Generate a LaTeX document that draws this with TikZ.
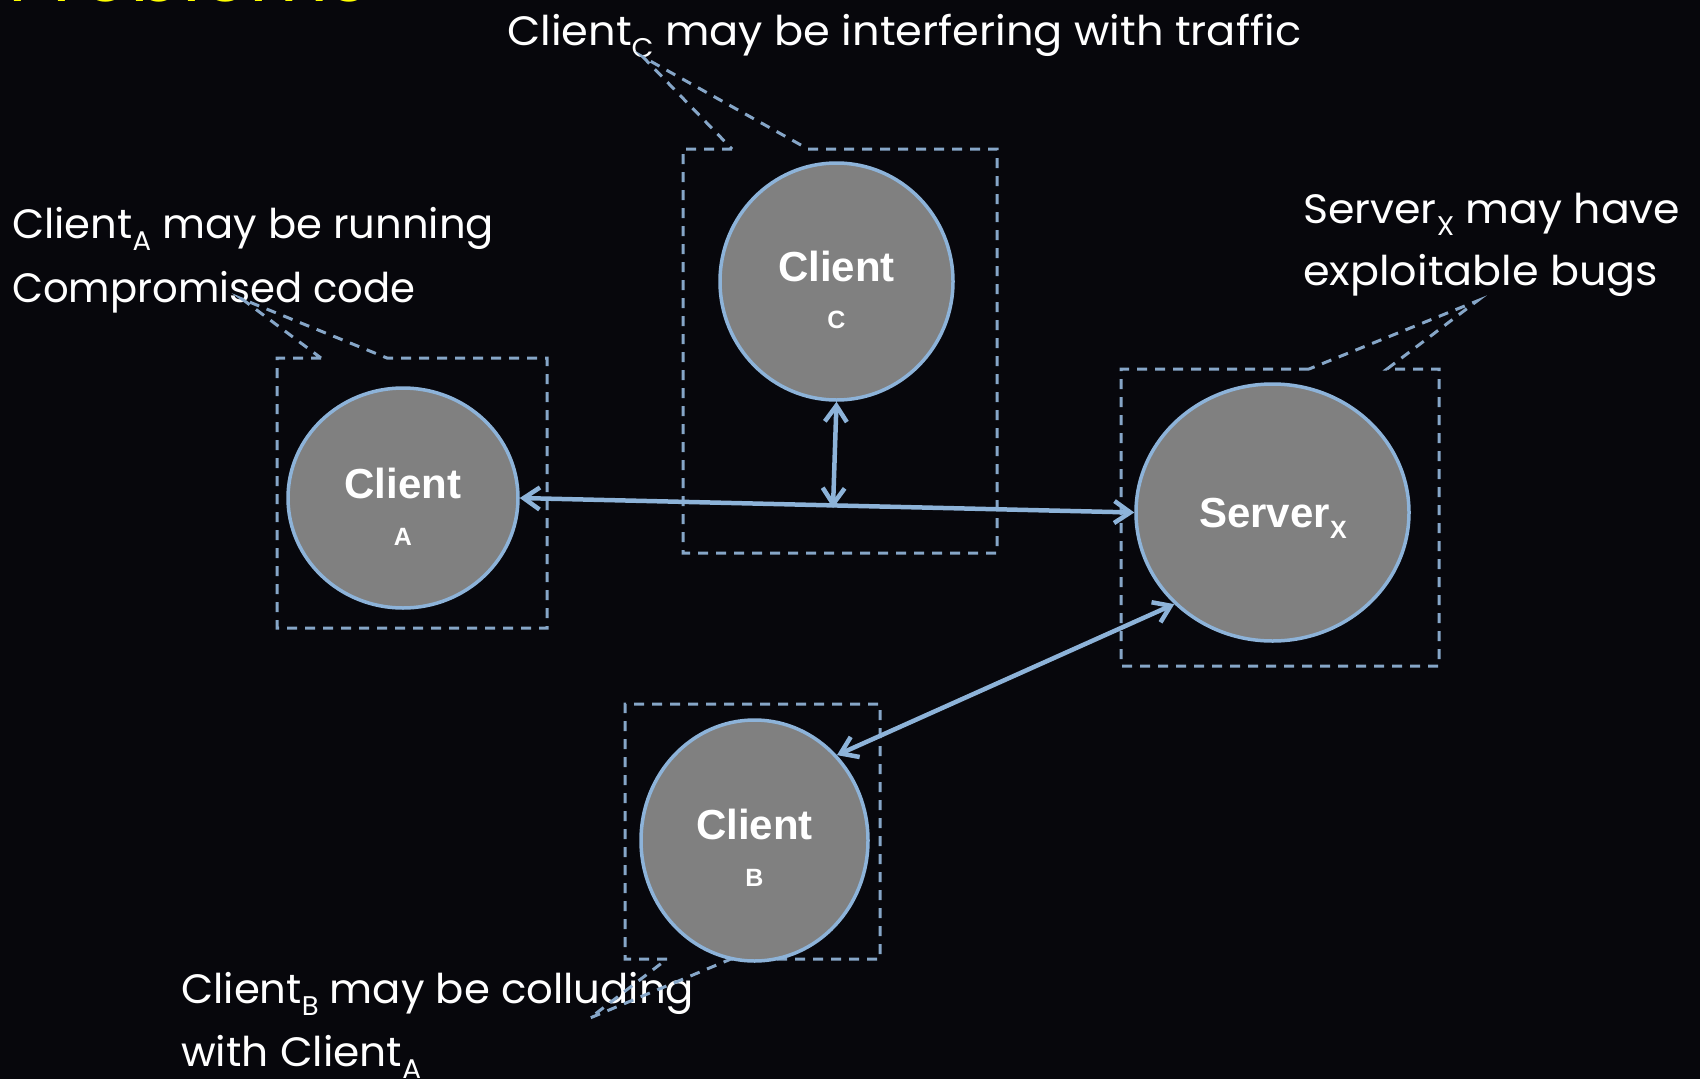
\documentclass[tikz,border=0pt]{standalone}
\usepackage{fontspec}
\setmainfont{Poppins}
\newfontfamily\nodefont{Liberation Sans}
\usetikzlibrary{arrows.meta,shapes.geometric}
\definecolor{bg}{HTML}{07070C}
\definecolor{edgeblue}{HTML}{8DB3D9}
\definecolor{dashblue}{HTML}{86A6C8}
\definecolor{fillg}{HTML}{808080}
\definecolor{titleyellow}{HTML}{FFFF00}
\newcommand\subs[1]{\raisebox{-0.3em}{\fontsize{27}{27}\selectfont #1}}
\newcommand\fitw[2]{\resizebox{#1}{\height}{#2}}
\tikzset{
  cnode/.style={ellipse, draw=edgeblue, fill=fillg, line width=3.5pt, inner sep=0pt},
  ctext/.style={text=white, font=\nodefont\bfseries\fontsize{42}{42}\selectfont, inner sep=0pt, anchor=base},
  csub/.style={text=white, font=\nodefont\bfseries\fontsize{25}{25}\selectfont, inner sep=0pt, anchor=base},
  calltext/.style={text=white, font=\fontsize{41}{41}\selectfont, inner sep=0pt, anchor=base west},
  callbox/.style={draw=dashblue, line width=3pt, dash pattern=on 10pt off 8pt},
  conn/.style={draw=edgeblue, line width=4.5pt, line cap=round,
    {Straight Barb[length=16pt,width=22pt]}-{Straight Barb[length=16pt,width=22pt]}}
}
\begin{document}
\begin{tikzpicture}[x=1pt,y=-1pt]
\fill[bg] (0,0) rectangle (1700,1079);
\useasboundingbox (0,0) rectangle (1700,1079);
\clip (0,0) rectangle (1700,1079);
% title (cut off)
\node[anchor=base west, inner sep=0pt, text=titleyellow] (title) at (8,1) {\resizebox{360pt}{!}{Problems}};
% callout texts
\node[calltext] (tA1) at (12,238) {\fitw{482pt}{Client\subs{A} may be running}};
\node[calltext] (tA2) at (12,302) {\fitw{403pt}{Compromised code}};
\node[calltext] (tC) at (507,45) {\fitw{794pt}{Client\subs{C} may be interfering with traffic}};
\node[calltext] (tX1) at (1303,223) {\fitw{377pt}{Server\subs{X} may have}};
\node[calltext] (tX2) at (1303,285) {\fitw{355pt}{exploitable bugs}};
\node[calltext] (tB1) at (181,1003) {\fitw{513pt}{Client\subs{B} may be colluding}};
\node[calltext] (tB2) at (181,1066) {\fitw{240pt}{with Client\subs{A}}};
% callout boxes
\draw[callbox] (321,358) -- (277,358) -- (277,628) -- (547,628) -- (547,358) -- (387,358) -- (242,299) -- cycle;
\draw[callbox] (732,149) -- (683,149) -- (683,553) -- (997,553) -- (997,149) -- (808,149) -- (643,57) -- cycle;
\draw[callbox] (1309,369) -- (1121,369) -- (1121,666) -- (1439,666) -- (1439,369) -- (1387,369) -- (1477,301) -- cycle;
\draw[callbox] (667,959) -- (625,959) -- (625,704) -- (880,704) -- (880,959) -- (731,959) -- (590,1018) -- cycle;
% nodes
\node[cnode, minimum width=230pt, minimum height=220pt] (A) at (403,498) {};
\node[ctext] (Al) at (403,498) {Client};
\node[csub] (As) at (403,545) {A};
\node[cnode, minimum width=233pt, minimum height=237pt] (C) at (836.5,281.5) {};
\node[ctext] (Cl) at (836.5,281) {Client};
\node[csub] (Cs) at (836.5,328) {C};
\node[cnode, minimum width=227pt, minimum height=241pt] (B) at (754.5,840.5) {};
\node[ctext] (Bl) at (754.5,839) {Client};
\node[csub] (Bs) at (754.5,886) {B};
\node[cnode, minimum width=273pt, minimum height=257pt] (X) at (1272.5,512.5) {};
\node[ctext] (Xl) at (1273,527) {Server\raisebox{-0.28em}{\fontsize{25}{25}\selectfont X}};
% connectors
\coordinate (J) at (833,508);
\draw[conn] (A.east) -- (X.west);
\draw[conn] (C.south) -- (J);
\draw[conn] (B.46) -- (X.223);
\end{tikzpicture}
\end{document}
